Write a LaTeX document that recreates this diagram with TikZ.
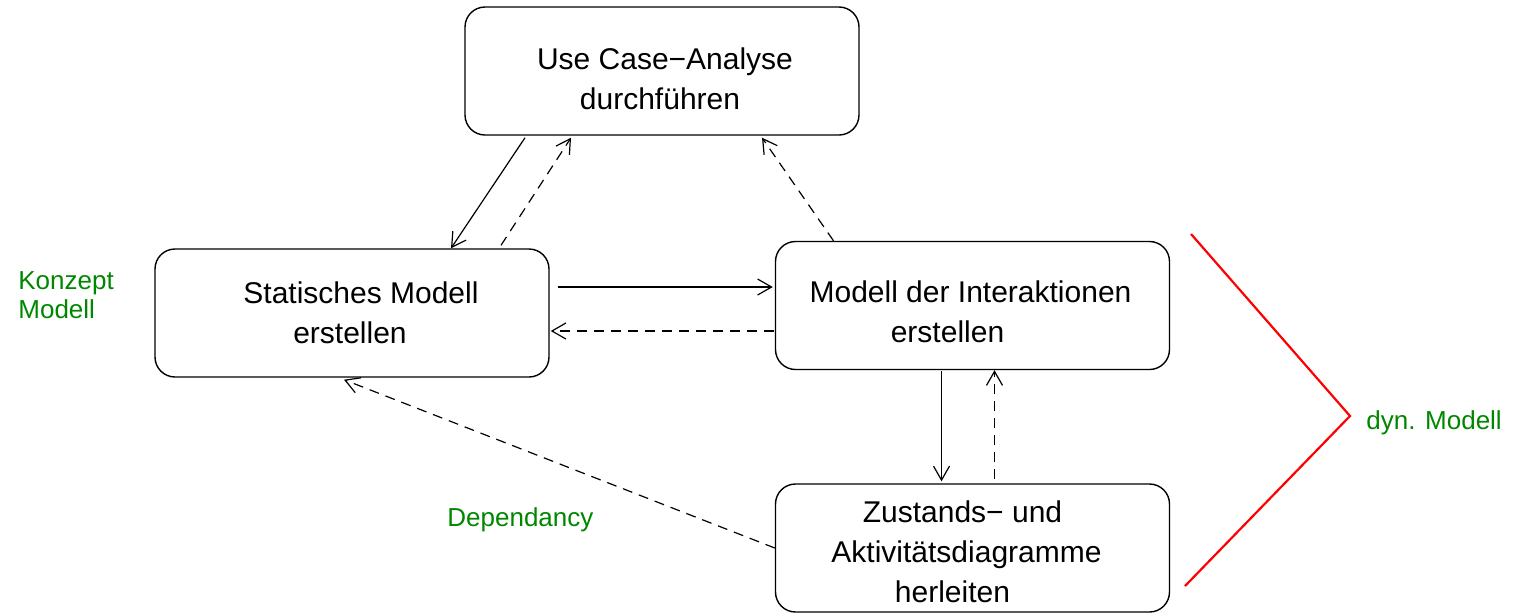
\documentclass[tikz,border=0pt]{standalone}
\usepackage{fontspec}
\setmainfont{Liberation Sans}
\usetikzlibrary{arrows.meta}
\definecolor{lblgreen}{RGB}{0,135,0}
\begin{document}
\begin{tikzpicture}[x=0.5pt,y=-0.5pt,
  box/.style={draw,line width=0.7pt,rounded corners=10pt,minimum width=197pt,minimum height=64pt,align=center,
    font=\fontsize{15pt}{20pt}\selectfont,inner sep=0pt},
  tip/.style={-{Straight Barb[length=7pt,width=8pt,line width=0.6pt]}},
  sol/.style={tip,line width=0.6pt},
  dsh/.style={tip,line width=0.6pt,dash pattern=on 5pt off 3.5pt},
  lbl/.style={text=lblgreen,font=\fontsize{13pt}{14.5pt}\selectfont,inner sep=0pt}]
\useasboundingbox (0,0) rectangle (1514,612);
\node[box] (uc) at (662,71) {\parbox{190pt}{\centering\vspace*{8pt}\hspace*{3pt}Use Case−Analyse\\\hspace*{-2pt}durchführen}};
\node[box] (sm) at (352,313) {\parbox{190pt}{\centering\hspace*{9pt}Statisches Modell\\\hspace*{-2pt}erstellen}};
\node[box] (mi) at (972.5,305.5) {\parbox{190pt}{\centering\vspace*{6pt}\hspace*{-2pt}Modell der Interaktionen\\\hspace*{-25pt}erstellen}};
\node[box] (za) at (972.5,548) {\parbox{190pt}{\centering\vspace*{4pt}\hspace*{-10pt}Zustands− und\\\hspace*{-6pt}Aktivitätsdiagramme\\\hspace*{-20pt}herleiten}};
\draw[sol] ([xshift=-68.5pt,yshift=-1pt]uc.south) -- ([xshift=49.5pt]sm.north);
\draw[dsh] ([xshift=74.5pt,yshift=1.5pt]sm.north) -- ([xshift=-45.5pt,yshift=-1pt]uc.south);
\draw[sol] ([xshift=4pt,yshift=13pt]sm.east) -- ([xshift=-1pt,yshift=9.25pt]mi.west);
\draw[dsh] ([xshift=-0.5pt,yshift=-12.75pt]mi.west) -- ([xshift=0.5pt,yshift=-9pt]sm.east);
\draw[dsh] ([xshift=-69.5pt]mi.north) -- ([xshift=50pt,yshift=-1pt]uc.south);
\draw[sol] ([xshift=-15.5pt,yshift=-0.5pt]mi.south) -- ([xshift=-15.5pt,yshift=1pt]za.north);
\draw[dsh] ([xshift=11pt,yshift=2pt]za.north) -- ([xshift=11pt]mi.south);
\draw[dsh] (za.west) -- ([xshift=-4pt,yshift=-1pt]sm.south);
\coordinate (r1) at (1191,234);
\coordinate (r2) at (1350,416);
\coordinate (r3) at (1185,586);
\draw[red,line width=1.1pt] (r1) -- (r2) -- (r3);
\node[lbl,anchor=west] (dyn) at (1366,423) {dyn. Modell};
\node[lbl,anchor=west] (dep) at (447,520) {Dependancy};
\node[lbl,anchor=west,align=left] (km) at (18,295) {Konzept\\Modell};
\end{tikzpicture}
\end{document}
